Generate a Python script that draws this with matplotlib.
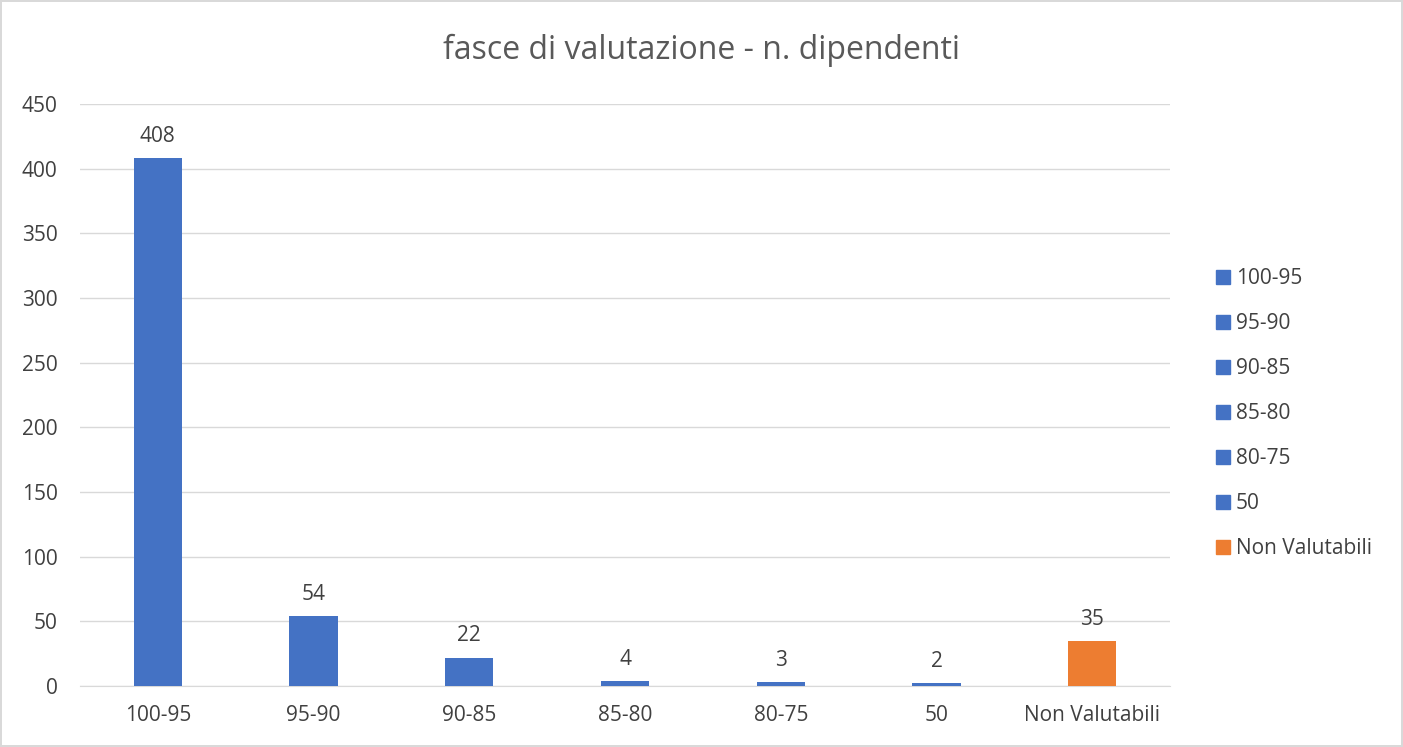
import matplotlib
matplotlib.use('Agg')
import matplotlib.pyplot as plt
from matplotlib.lines import Line2D

plt.rcParams['font.family'] = ['Open Sans', 'DejaVu Sans']

categories = ["100-95", "95-90", "90-85", "85-80", "80-75", "50", "Non Valutabili"]
values = [408, 54, 22, 4, 3, 2, 35]
colors = ["#4472C4"] * 6 + ["#ED7D31"]

fig = plt.figure(figsize=(14.03, 7.47), dpi=100)
fig.patch.set_edgecolor("#D9D9D9")
fig.patch.set_linewidth(1.5)
ax = fig.add_axes([0.057, 0.0817, 0.777, 0.779])

x = range(len(categories))
bars = ax.bar(x, values, width=0.31, color=colors, zorder=3)
for xi, v in zip(x, values):
    ax.annotate(str(v), (xi, v), xytext=(0, 8), textcoords="offset points",
                ha="center", va="bottom", fontsize=15, color="#404040")

ax.set_xlim(-0.5, len(categories) - 0.5)
ax.set_ylim(0, 450)
ax.set_yticks(range(0, 451, 50))
ax.set_xticks(list(x))
ax.set_xticklabels(categories)
ax.tick_params(axis="both", length=0, labelsize=15, labelcolor="#404040")
ax.tick_params(axis="y", pad=16)
ax.tick_params(axis="x", pad=14)
ax.grid(axis="y", color="#D9D9D9", lw=1, zorder=0)
for s in ["top", "right", "left"]:
    ax.spines[s].set_visible(False)
ax.spines["bottom"].set_color("#D9D9D9")

fig.text(0.5, 0.932, "fasce di valutazione - n. dipendenti", fontsize=23,
         color="#595959", ha="center", va="center")

handles = [Line2D([], [], marker="s", ls="", markersize=10, color=c) for c in colors]
leg = fig.legend(handles, categories, loc="center left", bbox_to_anchor=(0.851, 0.446),
                 frameon=False, fontsize=15, labelspacing=1.15, handletextpad=0.1,
                 handlelength=1.0)
for t in leg.get_texts():
    t.set_color("#404040")

fig.savefig("out.png", dpi=100)
